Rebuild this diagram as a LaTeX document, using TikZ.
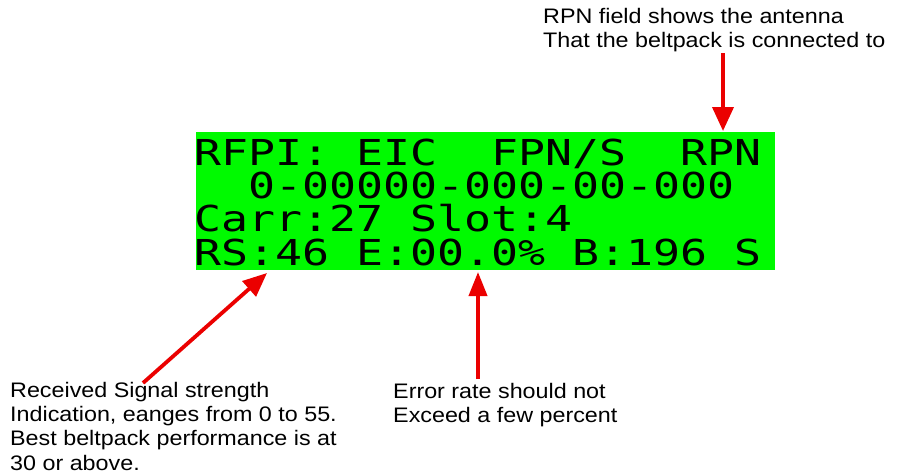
\documentclass[tikz,border=0pt]{standalone}
\usepackage{fontspec}
\setmainfont{Liberation Sans}
\newfontfamily\annfont[FakeStretch=1.11]{Liberation Sans}
\newfontfamily\lcdfont[FakeStretch=1.256]{DejaVu Sans Mono}
\usetikzlibrary{arrows.meta}
\definecolor{lcdgreen}{RGB}{0,250,0}
\definecolor{arrowred}{RGB}{235,0,0}
\tikzset{
  ann/.style={anchor=north west, inner sep=0pt, align=left,
    font=\annfont\fontsize{21}{24.3}\selectfont, text=black},
  lcdline/.style={anchor=base west, inner sep=0pt,
    font=\lcdfont\fontsize{35.7}{35.7}\selectfont, text=black},
  redarrow/.style={draw=arrowred, line width=3.8pt,
    -{Triangle[length=24pt,width=#1]}, shorten >=0pt},
  redarrow/.default=20pt
}
\begin{document}
\begin{tikzpicture}[x=1pt,y=-1pt]
\useasboundingbox (0,0) rectangle (904,474);
\fill[white] (0,0) rectangle (904,474);
% LCD panel
\node (lcd) [fill=lcdgreen, inner sep=0pt, minimum width=579pt, minimum height=138pt, anchor=north west] at (196,132) {};
\node (l1) [lcdline] at (194,165) {RFPI:\ EIC\ \ FPN/S\ \ RPN};
\node (l2) [lcdline] at (194,198) {\ \ 0-00000-000-00-000};
\node (l3) [lcdline] at (194,231.5) {Carr:27 Slot:4};
\node (l4) [lcdline] at (194,265) {RS:46 E:00.0\%\ B:196\ S};
% annotations
\node (rpn) [ann] at (543,7.7) {RPN field shows the antenna\\That the beltpack is connected to};
\node (err) [ann] at (393,382.7) {Error rate should not\\Exceed a few percent};
\node (rssi) [ann] at (10,381.7) {Received Signal strength\\Indication, eanges from 0 to 55.\\Best beltpack performance is at\\30 or above.};
% arrow end points
\coordinate (rpntail) at (723,53);
\coordinate (rpntip) at (723,131);
\coordinate (errtail) at (478,379);
\coordinate (errtip) at (478,272);
\coordinate (rstail) at (143,383);
\coordinate (rstip) at (267,273);
\draw[redarrow=21pt] (rpntail) -- (rpntip);
\draw[redarrow=18pt] (errtail) -- (errtip);
\draw[redarrow=20pt] (rstail) -- (rstip);
\end{tikzpicture}
\end{document}
